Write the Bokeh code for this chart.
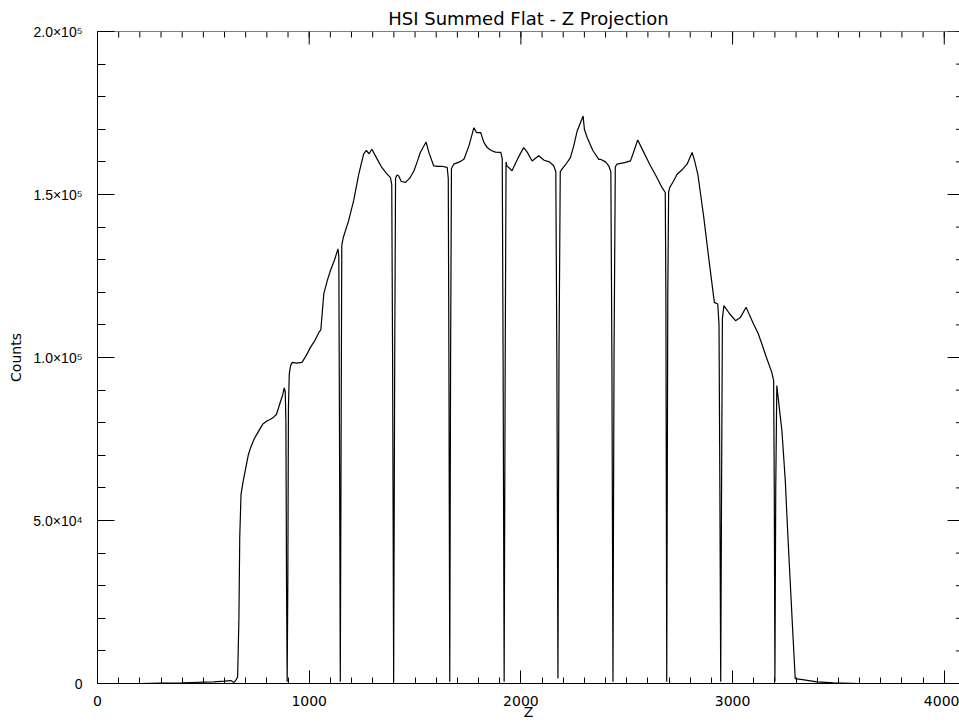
import math
from bokeh.plotting import figure
from bokeh.models import FixedTicker, Range1d, Span
from bokeh.embed import file_html
from bokeh.resources import INLINE

# ---- data ----
z_values = [
    0, 100, 200, 300, 400, 450, 500, 550, 600, 630, 645, 655, 662, 668, 672, 678,
    688, 700, 712, 724, 740, 762, 780, 800, 815, 832, 845, 855, 866, 875, 882,
    887, 890, 893, 896, 899, 902, 906, 912, 920, 940, 966, 985, 1006, 1025, 1046,
    1055, 1062, 1069, 1085, 1100, 1120, 1136, 1140, 1143, 1147, 1151, 1154, 1161,
    1186, 1210, 1234, 1257, 1270, 1283, 1296, 1320, 1343, 1365, 1384, 1390, 1394,
    1399, 1404, 1408, 1415, 1423, 1435, 1455, 1475, 1495, 1510, 1525, 1552, 1565,
    1588, 1610, 1630, 1652, 1657, 1660, 1664, 1668, 1672, 1683, 1710, 1731, 1755,
    1778, 1790, 1810, 1825, 1841, 1860, 1880, 1905, 1912, 1916, 1921, 1926, 1930,
    1934, 1958, 1985, 2013, 2030, 2053, 2084, 2110, 2135, 2155, 2165, 2170, 2175,
    2180, 2186, 2194, 2215, 2234, 2250, 2266, 2294, 2300, 2313, 2340, 2368, 2376,
    2400, 2415, 2425, 2430, 2435, 2440, 2446, 2454, 2490, 2518, 2535, 2552, 2580,
    2612, 2640, 2667, 2682, 2685, 2689, 2694, 2698, 2703, 2720, 2738, 2760, 2785,
    2809, 2822, 2836, 2864, 2887, 2914, 2930, 2936, 2940, 2944, 2948, 2952, 2959,
    2985, 3014, 3037, 3064, 3080, 3099, 3120, 3138, 3160, 3185, 3194, 3197, 3200,
    3204, 3209, 3220, 3233, 3249, 3260, 3272, 3285, 3296, 3330, 3399, 3477, 3600,
    4000, 4095,
]
count_values = [
    0, 0, 0, 100, 200, 300, 400, 500, 700, 900, 300, 1200, 2000, 20000, 45000, 58000,
    62000, 66000, 70000, 72500, 75000, 77500, 79500, 80500, 81000, 81700, 82500, 84500, 86800, 88500, 90700,
    89500, 80000, 30000, 500, 30000, 85000, 95000, 97500, 98500, 98300, 98500, 100500, 103100, 105000, 107700,
    108500, 114000, 119500, 123500, 126600, 130000, 133300, 131000, 80000, 500, 80000, 134500, 136800,
    141900, 148100, 156200, 162400, 163500, 162500, 163900, 161000, 158300, 156500, 155200, 153000, 100000,
    500, 100000, 155000, 156000, 155700, 154000, 153700, 155000, 157300, 160000, 162900, 166100, 163000,
    158800, 158600, 158600, 158300, 155000, 100000, 500, 100000, 158000, 159300, 160000, 160800, 165000,
    170500, 169000, 169000, 166000, 164400, 163500, 163000, 162900, 161000, 100000, 500, 100000, 160000,
    158800, 157300, 161000, 164400, 163000, 160300, 161900, 160500, 160000, 158800, 157000, 100000, 1500,
    100000, 157000, 157800, 159500, 161300, 165000, 169500, 174100, 170000, 167500, 163500, 160800, 160800,
    160000, 158800, 157000, 100000, 500, 100000, 158500, 159300, 159800, 160300, 163500, 166700, 163000,
    158800, 155500, 152100, 150600, 120000, 500, 120000, 150800, 152100, 154000, 156200, 157500, 159300,
    162900, 160000, 156200, 143000, 130700, 116900, 116400, 110000, 60000, 500, 60000, 112000, 115900,
    113500, 111300, 112300, 115400, 113000, 110300, 107500, 104200, 100000, 95500, 92900, 60000, 500,
    60000, 91400, 85000, 77600, 62300, 47000, 31600, 15000, 1500, 1200, 500, 200, 0,
    0, 0,
]

x_major = [0, 1000, 2000, 3000, 4000]
x_minor = list(range(0, 4100, 100))
y_major = [0, 50000, 100000, 150000, 200000]
y_minor = list(range(0, 210000, 10000))
y_tick_labels = ["0", "5.0×10⁴", "1.0×10⁵", "1.5×10⁵", "2.0×10⁵"]

title_text = "HSI Summed Flat - Z Projection"
x_label = "Z"
y_label = "Counts"

X_VIEW_END = 4072     # part of the axis that fits in the window
X_AXIS_END = 4096     # the full axis (its right edge lies just past the window)
Y_END = 200000
FONT = "DejaVu Sans"

p = figure(
    width=959, height=722,
    output_backend="svg", toolbar_location=None,
    x_range=Range1d(0, X_VIEW_END), y_range=Range1d(0, Y_END),
    min_border_left=97, min_border_right=0, min_border_top=31, min_border_bottom=39,
    title=title_text,
)
p.background_fill_color = "white"
p.border_fill_color = "white"
p.outline_line_color = None
p.xgrid.visible = False
p.ygrid.visible = False

p.title.align = "center"
p.title.text_font = FONT
p.title.text_font_style = "normal"
p.title.text_font_size = "18px"
p.title.text_color = "black"
p.title.standoff = 5

xt = FixedTicker(ticks=x_major, minor_ticks=x_minor)
yt = FixedTicker(ticks=y_major, minor_ticks=y_minor)


def style_axis(ax, tick_in, minor_in):
    ax.axis_line_color = "black"
    ax.axis_line_width = 1
    ax.major_tick_line_color = "black"
    ax.minor_tick_line_color = "black"
    ax.major_tick_in = tick_in
    ax.major_tick_out = 0
    ax.minor_tick_in = minor_in
    ax.minor_tick_out = 0
    ax.major_label_text_font = FONT
    ax.major_label_text_font_size = "14px"
    ax.major_label_text_color = "black"
    ax.axis_label_text_font = FONT
    ax.axis_label_text_font_size = "14px"
    ax.axis_label_text_font_style = "normal"
    ax.axis_label_text_color = "black"


xa = p.xaxis[0]
xa.ticker = xt
style_axis(xa, 13, 6)
xa.axis_label = x_label
xa.major_label_standoff = 12
xa.axis_label_standoff = -5

ya = p.yaxis[0]
ya.ticker = yt
style_axis(ya, 17, 8)
ya.major_label_text_font = "Liberation Sans"
ya.axis_label = y_label
ya.major_label_overrides = {float(v): s for v, s in zip(y_major, y_tick_labels)}
ya.major_label_standoff = 15
ya.axis_label_standoff = 6

# top edge of the box
p.add_layout(Span(location=Y_END, dimension="width", line_color="black", line_width=1))

# mirrored tick marks on the top and right edges of the box (pointing inward)
p.ray(x=x_major, y=[Y_END] * len(x_major), length=13, angle=-math.pi / 2,
      length_units="screen", line_color="black", line_width=1)
p.ray(x=x_minor, y=[Y_END] * len(x_minor), length=6, angle=-math.pi / 2,
      length_units="screen", line_color="black", line_width=1)
p.ray(x=[X_AXIS_END] * len(y_major), y=y_major, length=17, angle=math.pi,
      length_units="screen", line_color="black", line_width=1)
p.ray(x=[X_AXIS_END] * len(y_minor), y=y_minor, length=8.5, angle=math.pi,
      length_units="screen", line_color="black", line_width=1)

p.line(z_values, count_values, line_color="black", line_width=1.2)

open("out.html", "w").write(file_html(p, INLINE))
